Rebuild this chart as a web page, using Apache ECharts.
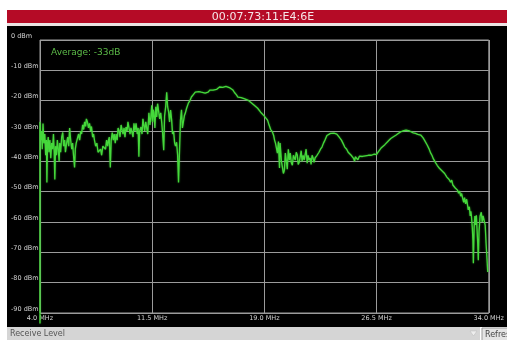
<!DOCTYPE html>
<html>
<head>
<meta charset="utf-8">
<script src="https://cdn.jsdelivr.net/npm/echarts@6/dist/echarts.min.js"></script>
<style>
  html, body { margin: 0; padding: 0; background: #fff; overflow: hidden; }
  #chart { width: 507px; height: 340px; }
</style>
</head>
<body>
<div id="chart"></div>
<script>
// Station header and status text
const stationMac = '00:07:73:11:E4:6E';
const averageLabel = 'Average: -33dB';
const footerLabel = 'Receive Level';
const buttonLabel = 'Refresh';

// Axis ticks
const freqTicksMHz = [4.0, 11.5, 19.0, 26.5, 34.0];
const levelTicksDbm = [0, -10, -20, -30, -40, -50, -60, -70, -80, -90];

// Receive level sweep, [MHz, dBm], split by band
const traceLow = [
  [4.00, -93.5], [4.00, -27], [4.05, -33], [4.10, -30], [4.15, -36], [4.20, -27.5], [4.26, -34],
  [4.32, -31], [4.38, -38], [4.43, -33], [4.46, -47], [4.50, -35], [4.55, -32], [4.60, -37],
  [4.66, -33], [4.72, -39], [4.78, -34], [4.84, -36], [4.90, -31], [4.95, -37], [4.99, -46],
  [5.04, -35], [5.10, -38], [5.16, -33], [5.22, -36], [5.28, -40], [5.32, -34], [5.38, -37],
  [5.45, -32], [5.52, -30.5], [5.58, -35], [5.65, -33], [5.70, -37], [5.78, -34], [5.85, -32],
  [5.92, -35], [5.98, -29], [6.05, -33], [6.12, -36], [6.18, -34], [6.24, -38], [6.31, -42],
  [6.36, -36], [6.42, -34], [6.51, -33.5], [6.58, -31], [6.65, -33], [6.72, -30], [6.78, -31],
  [6.85, -28], [6.92, -29.5], [6.98, -27], [7.05, -28.5], [7.10, -26], [7.17, -27], [7.24, -29],
  [7.31, -27.5], [7.38, -30], [7.44, -28.5], [7.52, -32], [7.58, -31], [7.64, -33], [7.72, -35],
  [7.80, -34], [7.88, -37], [7.97, -37.5], [8.05, -36], [8.12, -38], [8.20, -35], [8.30, -34.5],
  [8.38, -36], [8.45, -33], [8.52, -35], [8.58, -33]
];

const traceMid = [
  [8.63, -32], [8.70, -42], [8.76, -33], [8.83, -30.5], [8.90, -33], [8.96, -31], [9.03, -34],
  [9.09, -31], [9.16, -33], [9.22, -29], [9.29, -30], [9.35, -32], [9.42, -28], [9.49, -27.5],
  [9.55, -31], [9.62, -29], [9.68, -32], [9.75, -28.7], [9.82, -30], [9.88, -27], [9.95, -27],
  [10.02, -31], [10.08, -29], [10.15, -28.7], [10.22, -32], [10.28, -27.5], [10.35, -30],
  [10.42, -27.5], [10.50, -31], [10.56, -29], [10.61, -38.5], [10.66, -30], [10.75, -28.7],
  [10.82, -31], [10.88, -26], [10.94, -26.4], [11.00, -30], [11.07, -27], [11.14, -27.5],
  [11.20, -31], [11.28, -24], [11.35, -28], [11.41, -25.4], [11.47, -21.5], [11.52, -27],
  [11.57, -23], [11.61, -23.8], [11.68, -29], [11.74, -22], [11.80, -25.4], [11.86, -21],
  [11.94, -20.8], [12.00, -26], [12.07, -24], [12.14, -27.4], [12.20, -31], [12.27, -36.3],
  [12.33, -25], [12.40, -22], [12.47, -17.2], [12.53, -22], [12.60, -23.8], [12.66, -27],
  [12.73, -23.1], [12.80, -26.4], [12.86, -31], [12.93, -30], [13.00, -34], [13.06, -35],
  [13.13, -33.7], [13.20, -38], [13.26, -47], [13.33, -36], [13.39, -26.4], [13.46, -23],
  [13.52, -29], [13.59, -28.7], [13.65, -25], [13.72, -24], [13.80, -22.5], [13.92, -20.8],
  [14.02, -20], [14.12, -18.8], [14.25, -18], [14.38, -17.2]
];

const traceHump = [
  [14.50, -17.5], [14.62, -17], [14.78, -17.2], [14.90, -16.7], [15.04, -17.5], [15.15, -17],
  [15.24, -17.2], [15.35, -16.5], [15.45, -16.8], [15.57, -16.5], [15.70, -16], [15.80, -16.3],
  [15.90, -15.8], [16.00, -15.5], [16.10, -15.2], [16.22, -15.6], [16.32, -15.2], [16.43, -15.3],
  [16.55, -15.8], [16.70, -15.8], [16.80, -16.3], [16.90, -16.5], [17.00, -17.3], [17.12, -18],
  [17.23, -18.8], [17.35, -18.6], [17.45, -19], [17.56, -19], [17.68, -19.4], [17.78, -19.5],
  [17.89, -19.8], [18.00, -20.3], [18.10, -20.6], [18.22, -21], [18.32, -21.5], [18.45, -21.8],
  [18.55, -22.5], [18.65, -23], [18.75, -23.8], [18.88, -24], [18.98, -25], [19.08, -25.5],
  [19.21, -26.4], [19.28, -27.5], [19.34, -28], [19.42, -29.5], [19.54, -30.4], [19.62, -31.5],
  [19.68, -33], [19.74, -34], [19.80, -35.5], [19.87, -37.3]
];

const traceNotch = [
  [19.94, -33.5], [20.01, -42.2], [20.05, -34], [20.07, -33.7], [20.14, -40], [20.20, -39.6],
  [20.27, -44], [20.34, -42.9], [20.40, -37.3], [20.47, -40], [20.53, -42.6], [20.60, -36],
  [20.67, -39.6], [20.73, -37.3], [20.80, -40.5], [20.87, -41.3], [20.94, -38], [21.00, -38.6],
  [21.06, -39.6], [21.13, -37], [21.20, -37.9], [21.26, -41], [21.33, -40.3], [21.39, -38.6],
  [21.46, -36.5], [21.52, -40], [21.59, -38], [21.66, -39.6], [21.72, -37.9], [21.79, -36],
  [21.86, -40.6], [21.92, -38], [21.99, -39.6], [22.06, -38.9], [22.12, -41], [22.19, -38],
  [22.26, -39], [22.32, -40.3], [22.39, -38.9], [22.45, -39.5], [22.52, -38], [22.65, -37],
  [22.75, -36], [22.85, -35.3], [22.95, -34], [23.05, -33], [23.18, -31.5], [23.31, -31],
  [23.42, -30.8], [23.51, -30.7], [23.65, -30.7], [23.75, -30.7], [23.84, -31], [23.94, -31.5],
  [24.04, -32.3], [24.15, -33], [24.25, -34], [24.37, -35.3], [24.50, -36], [24.60, -37],
  [24.70, -37.3], [24.80, -38], [24.88, -38.3], [24.96, -39], [25.03, -40], [25.08, -38.5]
];

const traceHigh = [
  [25.16, -38.6], [25.25, -39.5], [25.35, -38.3], [25.45, -38.8], [25.55, -38.4], [25.65, -38.8],
  [25.75, -38.2], [25.85, -38.6], [25.95, -38], [26.05, -38.5], [26.15, -38], [26.25, -38.3],
  [26.35, -37.6], [26.49, -37.8], [26.60, -37], [26.70, -36.3], [26.82, -35.5], [26.95, -35],
  [27.05, -34.5], [27.15, -34], [27.30, -33.2], [27.45, -32.5], [27.60, -32], [27.81, -31.3],
  [27.95, -30.8], [28.10, -30.3], [28.25, -30], [28.35, -29.6], [28.47, -29.7], [28.60, -29.8],
  [28.70, -30], [28.80, -30.4], [28.95, -30.6], [29.10, -30.8], [29.25, -31.1], [29.46, -31.4],
  [29.60, -32.2], [29.70, -33], [29.79, -33.6], [29.90, -34.8], [30.00, -35.8], [30.12, -37.3],
  [30.20, -38], [30.30, -39.2], [30.38, -39.8], [30.46, -40.6], [30.55, -41.3], [30.62, -41],
  [30.70, -42.3], [30.78, -41.8], [30.85, -43], [30.92, -42.6], [30.98, -43.5], [31.05, -44],
  [31.12, -43.6], [31.20, -45.2], [31.28, -44.8], [31.35, -46], [31.45, -46.9], [31.52, -46.2],
  [31.60, -47.8], [31.68, -47.3], [31.76, -48.8], [31.84, -48.3], [31.91, -49.5], [31.98, -50.5],
  [32.05, -49.8], [32.12, -51.5], [32.18, -50.6], [32.24, -51], [32.32, -53.5], [32.38, -52],
  [32.45, -54], [32.52, -52.5], [32.57, -52.8], [32.63, -56], [32.70, -55], [32.76, -58],
  [32.80, -56.5], [32.84, -58], [32.90, -62], [32.94, -66], [32.97, -73.6], [33.02, -62],
  [33.07, -58], [33.12, -61], [33.17, -57.8], [33.22, -63], [33.26, -67], [33.30, -72.6],
  [33.35, -63], [33.42, -58], [33.50, -56.8], [33.56, -60], [33.62, -58], [33.70, -57.8],
  [33.76, -61], [33.82, -67], [33.88, -72], [33.93, -76.5]
];

const sweep = [].concat(traceLow, traceMid, traceHump, traceNotch, traceHigh);

const chart = echarts.init(document.getElementById('chart'), null, { renderer: 'canvas' });

const gridColor = '#9b9b9b';
const labelColor = '#d2d2d2';

chart.setOption({
  backgroundColor: '#ffffff',
  animation: false,
  grid: {
    left: 40, right: 14, top: 40, bottom: 27,
    show: true, borderColor: gridColor, borderWidth: 1, backgroundColor: 'transparent'
  },
  title: {
    text: averageLabel,
    left: 46, top: 43,
    textStyle: { color: '#5cbc48', fontSize: 9, fontWeight: 'normal', fontFamily: 'DejaVu Sans' }
  },
  xAxis: {
    type: 'value',
    min: freqTicksMHz[0],
    max: freqTicksMHz[freqTicksMHz.length - 1],
    interval: freqTicksMHz[1] - freqTicksMHz[0],
    axisLine: { show: false },
    axisTick: { show: false },
    splitLine: { show: true, lineStyle: { color: gridColor, width: 1 } },
    axisLabel: {
      color: labelColor, fontSize: 6.5, margin: 2, fontFamily: 'DejaVu Sans',
      formatter: v => v.toFixed(1) + ' MHz'
    }
  },
  yAxis: {
    type: 'value',
    min: levelTicksDbm[levelTicksDbm.length - 1],
    max: levelTicksDbm[0],
    interval: levelTicksDbm[0] - levelTicksDbm[1],
    axisLine: { show: false },
    axisTick: { show: false },
    splitLine: { show: true, lineStyle: { color: gridColor, width: 1 } },
    axisLabel: {
      color: labelColor, fontSize: 6.5, margin: 29, align: 'left',
      verticalAlign: 'bottom', lineHeight: 8, fontFamily: 'DejaVu Sans',
      formatter: v => v + ' dBm'
    }
  },
  graphic: [
    // panel background and header strip
    { type: 'rect', z: -100, silent: true, shape: { x: 7, y: 26, width: 500, height: 301 }, style: { fill: '#000000' } },
    { type: 'rect', z: -100, silent: true, shape: { x: 7, y: 10, width: 500, height: 13 }, style: { fill: '#b50b26' } },
    { type: 'rect', z: -100, silent: true, shape: { x: 7, y: 23, width: 500, height: 3 }, style: { fill: '#ece4e4' } },
    {
      type: 'text', z: 10, silent: true, x: 263, y: 17,
      style: { text: stationMac, fill: '#f6e6e8', font: '11px "DejaVu Sans"', textAlign: 'center', textVerticalAlign: 'middle' }
    },
    // footer bar
    { type: 'rect', z: 10, silent: true, shape: { x: 7, y: 327, width: 473, height: 13 }, style: { fill: '#d5d5d5' } },
    {
      type: 'text', z: 11, silent: true, x: 10, y: 334,
      style: { text: footerLabel, fill: '#555555', font: '8px "DejaVu Sans"', textVerticalAlign: 'middle' }
    },
    { type: 'polygon', z: 11, silent: true, shape: { points: [[470, 331], [477, 331], [473.5, 336]] }, style: { fill: '#eeeeee', stroke: '#bbbbbb', lineWidth: 0.5 } },
    { type: 'rect', z: 10, silent: true, shape: { x: 482, y: 328, width: 30, height: 13 }, style: { fill: '#e4e4e4', stroke: '#9a9a9a', lineWidth: 1 } },
    {
      type: 'text', z: 11, silent: true, x: 485, y: 335,
      style: { text: buttonLabel, fill: '#444444', font: '8px "DejaVu Sans"', textVerticalAlign: 'middle' }
    }
  ],
  series: [{
    type: 'line',
    data: sweep,
    showSymbol: false,
    clip: false,
    z: 5,
    lineStyle: { color: '#45d83b', width: 1.3, shadowColor: 'rgba(60,200,50,0.6)', shadowBlur: 2 },
    itemStyle: { color: '#45d83b' }
  }]
});
</script>
</body>
</html>
